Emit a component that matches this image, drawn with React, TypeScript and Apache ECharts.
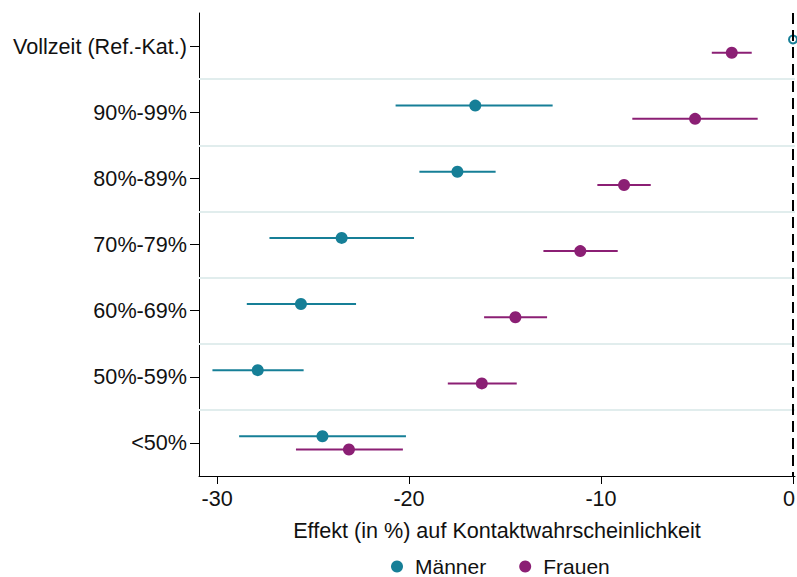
import React, { useEffect, useRef } from "react";
import * as echarts from "echarts";

const categories = [
  "Vollzeit (Ref.-Kat.)",
  "90%-99%",
  "80%-89%",
  "70%-79%",
  "60%-69%",
  "50%-59%",
  "<50%",
];
const maennerEst = [0, -16.55, -17.48, -23.51, -25.63, -27.88, -24.51];
const maennerLo = [null, -20.7, -19.46, -27.27, -28.45, -30.24, -28.85];
const maennerHi = [null, -12.52, -15.49, -19.74, -22.76, -25.49, -20.16];
const frauenEst = [-3.19, -5.1, -8.8, -11.08, -14.46, -16.21, -23.13];
const frauenLo = [-4.23, -8.37, -10.19, -13.0, -16.09, -17.98, -25.89];
const frauenHi = [-2.15, -1.84, -7.41, -9.13, -12.81, -14.39, -20.32];
const xTicks = [-30, -20, -10, 0];

const TEAL = "#167f97";
const PURPLE = "#8b1f74";
const OFFSET = 0.1;

export default function App() {
  const ref = useRef<HTMLDivElement>(null);
  useEffect(() => {
    if (!ref.current) return;
    const chart = echarts.init(ref.current, null, { renderer: "svg" });
    const barData = (lo: any[], hi: any[], sign: number) =>
      lo
        .map((l, i) => (l === null ? null : [l, hi[i], i + 0.5 + sign * OFFSET]))
        .filter((d) => d !== null);
    const makeBars = (name: string, color: string, data: any[]) => ({
      type: "custom",
      name,
      xAxisIndex: 0,
      yAxisIndex: 1,
      silent: true,
      itemStyle: { color },
      encode: { x: [0, 1], y: 2 },
      data,
      renderItem: (params: any, api: any) => {
        const p1 = api.coord([api.value(0), api.value(2)]);
        const p2 = api.coord([api.value(1), api.value(2)]);
        return {
          type: "line",
          shape: { x1: p1[0], y1: p1[1], x2: p2[0], y2: p2[1] },
          style: { stroke: color, lineWidth: 2 },
        };
      },
      z: 2,
    });
    const font = "'Liberation Sans', Arial, sans-serif";
    const FS = 21.6;
    chart.setOption({
      animation: false,
      grid: {
        left: 199,
        right: 2,
        top: 13,
        bottom: 101,
        containLabel: false,
        outerBoundsMode: "none",
      },
      xAxis: {
        type: "value",
        min: -30.94,
        max: 0.104,
        axisLine: { show: true, onZero: false, lineStyle: { color: "#000", width: 1 } },
        axisTick: { show: true, length: 8, customValues: xTicks, lineStyle: { color: "#000" } },
        axisLabel: {
          customValues: xTicks,
          margin: 11,
          fontSize: FS,
          color: "#111",
          fontFamily: font,
          formatter: (v: number) => (v === 0 ? "{z|0}" : String(v)),
          rich: {
            z: { fontSize: FS, color: "#111", fontFamily: font, padding: [0, 8, 0, 0] },
          },
        },
        splitLine: { show: false },
        name: "Effekt (in %) auf Kontaktwahrscheinlichkeit",
        nameLocation: "middle",
        nameGap: 43,
        nameTextStyle: { fontSize: FS, color: "#111", fontFamily: font },
      },
      yAxis: [
        {
          type: "category",
          data: categories,
          inverse: true,
          boundaryGap: true,
          axisLine: { show: true, onZero: false, lineStyle: { color: "#000", width: 1 } },
          axisTick: { show: true, alignWithLabel: true, length: 9, lineStyle: { color: "#000" } },
          axisLabel: { margin: 12, fontSize: FS, color: "#111", fontFamily: font },
          splitLine: { show: false },
        },
        {
          type: "value",
          min: 0,
          max: 7,
          inverse: true,
          show: false,
          axisLine: { show: false, onZero: false },
          axisTick: { show: false },
          axisLabel: { show: false },
          splitLine: { show: false },
        },
      ],
      legend: {
        left: 386,
        top: 551,
        itemWidth: 12,
        itemHeight: 12,
        itemGap: 33,
        icon: "circle",
        data: ["Männer", "Frauen"],
        textStyle: { fontSize: 21, color: "#111", fontFamily: font, padding: [0, 0, 0, 7] },
      },
      series: [
        {
          type: "line",
          name: "_sep",
          xAxisIndex: 0,
          yAxisIndex: 1,
          data: [],
          silent: true,
          markLine: {
            silent: true,
            symbol: "none",
            label: { show: false },
            lineStyle: { color: "#e1eded", width: 2, type: "solid" },
            data: [1, 2, 3, 4, 5, 6].map((v) => ({ yAxis: v })),
          },
          z: 1,
        },
        {
          type: "line",
          name: "_zero",
          xAxisIndex: 0,
          yAxisIndex: 1,
          data: [],
          silent: true,
          markLine: {
            silent: true,
            symbol: "none",
            label: { show: false },
            lineStyle: { color: "#000", width: 2, type: [11, 6] },
            data: [{ xAxis: 0 }],
          },
          z: 1,
        },
        makeBars("Männer", TEAL, barData(maennerLo, maennerHi, -1)),
        makeBars("Frauen", PURPLE, barData(frauenLo, frauenHi, 1)),
        {
          type: "scatter",
          name: "Männer",
          xAxisIndex: 0,
          yAxisIndex: 1,
          symbol: "circle",
          symbolSize: 12,
          clip: false,
          itemStyle: { color: TEAL, opacity: 1 },
          data: maennerEst.map((v, i) =>
            i === 0
              ? {
                  value: [v, i + 0.5 - OFFSET],
                  symbolSize: 8,
                  itemStyle: { color: "transparent", borderColor: TEAL, borderWidth: 2 },
                }
              : [v, i + 0.5 - OFFSET]
          ),
          z: 3,
        },
        {
          type: "scatter",
          name: "Frauen",
          xAxisIndex: 0,
          yAxisIndex: 1,
          symbol: "circle",
          symbolSize: 12,
          clip: false,
          itemStyle: { color: PURPLE, opacity: 1 },
          data: frauenEst.map((v, i) => [v, i + 0.5 + OFFSET]),
          z: 3,
        },
      ],
    });
    return () => chart.dispose();
  }, []);
  return (
    <div
      ref={ref}
      style={{ position: "fixed", left: 0, top: 0, width: 797, height: 577, background: "#fff" }}
    />
  );
}
